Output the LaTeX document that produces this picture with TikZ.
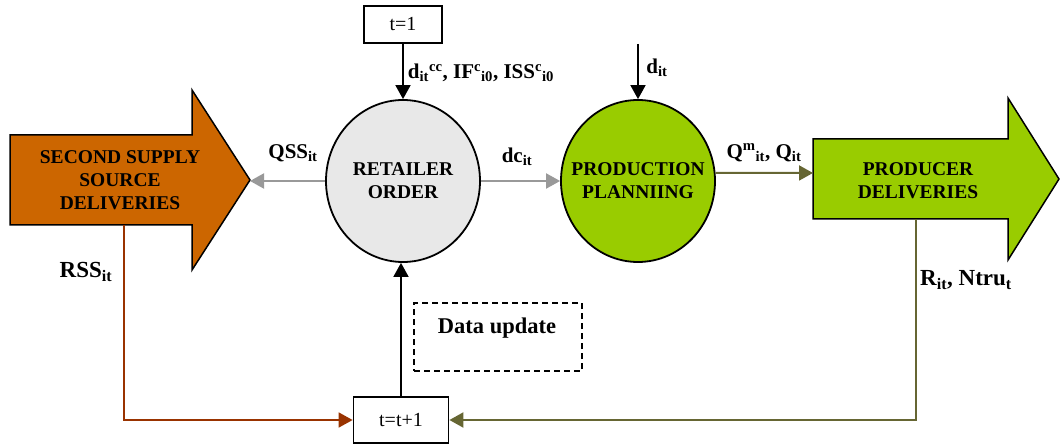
\documentclass[tikz,border=0pt]{standalone}
\usepackage{fontspec}
\setmainfont{Liberation Serif}
\usetikzlibrary{arrows.meta,positioning,calc,shapes.geometric}
\definecolor{SupplyOrange}{HTML}{CC6600}
\definecolor{ProdGreen}{HTML}{99CC00}
\definecolor{OrderGray}{HTML}{E8E8E8}
\definecolor{FlowGray}{HTML}{999999}
\definecolor{RssBrown}{HTML}{993300}
\definecolor{Olive}{HTML}{666633}

\begin{document}
\begin{tikzpicture}[x=1pt,y=-1pt,>={Triangle[length=14pt,width=15pt]},line width=1.8pt,
  lbl/.style={font=\fontsize{19.5}{23}\selectfont\bfseries,align=center,inner sep=0pt},
  flowlbl/.style={lbl,font=\fontsize{21}{24}\selectfont\bfseries},
  looplbl/.style={lbl,font=\fontsize{23}{26}\selectfont\bfseries},
  stepbox/.style={draw,fill=white,font=\fontsize{20}{24}\selectfont,inner sep=0pt},
  procnode/.style={ellipse,draw,lbl,inner xsep=-25pt,minimum width=154pt,minimum height=162pt},
  bigarrow/.style={draw,line width=1.5pt}]
  \useasboundingbox (0,0) rectangle (1062,446);
  % supply / delivery arrows
  \draw[bigarrow,fill=SupplyOrange] (10,135) -- (192,135) -- (192,90) -- (250,180)
    -- (192,270) -- (192,225) -- (10,225) -- cycle;
  \node[lbl] (ssd) at (120,180) {SECOND SUPPLY\\SOURCE\\DELIVERIES};
  \coordinate (ssdtip) at (250,180);
  \coordinate (ssdfoot) at (124,225);
  \draw[bigarrow,fill=ProdGreen] (813,139) -- (1008,139) -- (1008,98) -- (1059,179)
    -- (1008,260) -- (1008,219) -- (813,219) -- cycle;
  \node[lbl] (pdl) at (918,181) {PRODUCER\\DELIVERIES};
  \coordinate (pdin) at (813,173);
  \coordinate (pdfoot) at (916,219);
  % process nodes
  \node[procnode,fill=OrderGray] (ret) at (403,181) {RETAILER\\ORDER};
  \node[procnode,fill=ProdGreen] (prod) at (638,181) {PRODUCTION\\PLANNIING};
  \node[stepbox,minimum width=78pt,minimum height=37pt] (tone) at (403,24.5) {t=1};
  \node[stepbox,minimum width=95pt,minimum height=46pt] (tnext) at (401,420) {t=t+1};
  \node[draw,dashed,dash pattern=on 6pt off 4pt,line width=1.4pt,
    minimum width=168pt,minimum height=68pt] (upd) at (498,337) {};
  \node[lbl,font=\fontsize{22.5}{26}\selectfont\bfseries] (updtxt) at (497,328) {Data update};
  \coordinate (dtop) at (638,44);
  % flows
  \draw[->] (tone.south) -- (ret.north);
  \draw[->] (dtop) -- (prod.north);
  \draw[->,FlowGray,line width=2pt] (ret.west) -- (ret.west -| ssdtip);
  \draw[->,FlowGray,line width=2pt] (ret.east) -- (prod.west);
  \draw[->,Olive,line width=2pt] (prod.6) -- (pdin);
  \draw[->,RssBrown] (ssdfoot) |- (tnext.west);
  \draw[->,Olive,line width=2pt] (pdfoot) |- (tnext.east);
  \draw[->] (tnext.north) -- (tnext.north |- ret.south);
  % labels
  \node[flowlbl,anchor=west] (dinit) at (407,73)
    {d\textsubscript{it}\textsuperscript{cc}, IF\textsuperscript{c}\textsubscript{i0}, ISS\textsuperscript{c}\textsubscript{i0}};
  \node[flowlbl] (dit) at (657,68) {d\textsubscript{it}};
  \node[flowlbl] (dcit) at (517,157) {dc\textsubscript{it}};
  \node[flowlbl] (qss) at (293,153) {QSS\textsubscript{it}};
  \node[flowlbl] (qmit) at (764,153) {Q\textsuperscript{m}\textsubscript{it}, Q\textsubscript{it}};
  \node[looplbl] (rss) at (86,272) {RSS\textsubscript{it}};
  \node[looplbl] (rit) at (966,280) {R\textsubscript{it}, Ntru\textsubscript{t}};
\end{tikzpicture}
\end{document}
